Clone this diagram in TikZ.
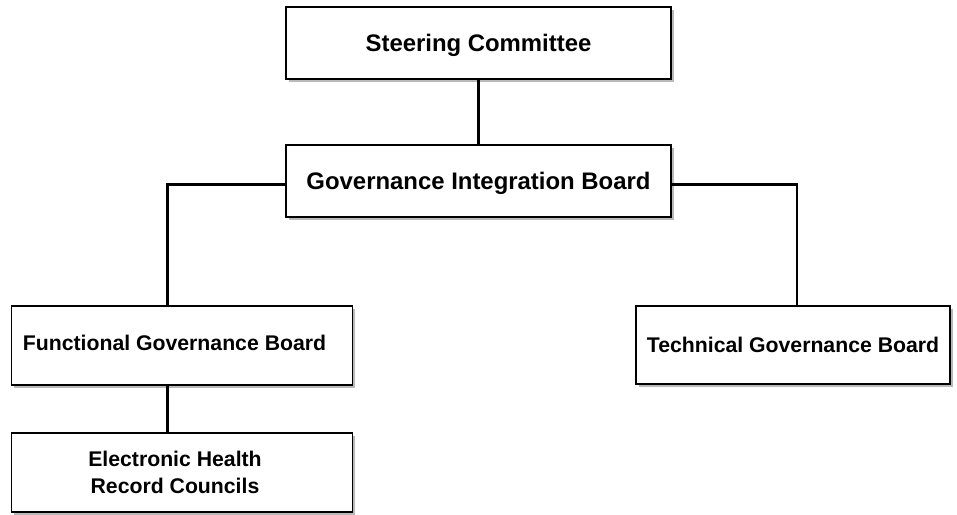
\documentclass[tikz,border=0pt]{standalone}
\usepackage{fontspec}
\setmainfont{Liberation Sans}
\usepackage{tikz}
\usetikzlibrary{shadows,calc}
\tikzset{box/.style={draw, line width=1.2pt, fill=white, rectangle, inner sep=0pt, text depth=0pt,
    drop shadow={shadow xshift=2pt, shadow yshift=-2pt, opacity=0.55}}}
\tikzset{big/.style={font=\bfseries\fontsize{17}{20}\selectfont}}
\tikzset{small/.style={font=\bfseries\fontsize{15.1}{18.9}\selectfont}}
\tikzset{lbl/.style={small, align=center, inner sep=0pt}}
\tikzset{wire/.style={line width=1.65pt}}

\begin{document}
\begin{tikzpicture}[x=0.025cm, y=-0.025cm]
    \useasboundingbox (0,0) rectangle (957,514);

    \node [box, big, minimum width=9.625cm, minimum height=1.8cm] (steer) at (478.5,43) {Steering Committee};
    \node [box, big, minimum width=9.625cm, minimum height=1.79cm] (gib) at (478.5,181) {Governance Integration Board};
    \node [box, minimum width=8.525cm, minimum height=1.975cm] (fgb) at (182,345.5) {};
    \node [box, small, minimum width=7.85cm, minimum height=1.95cm] (tgb) at (793,345) {Technical Governance Board};
    \node [box, minimum width=8.525cm, minimum height=1.96cm] (ehr) at (182,472.5) {};

    \node [lbl] (fgbtext) at ($(fgb.center)+(-7.5,-2.5)$) {Functional Governance Board};
    \node [lbl] (ehrtext) at ($(ehr.center)+(-7,0)$) {Electronic Health\\Record Councils};

    \coordinate (lj) at (167.5,184.5);
    \coordinate (rj) at (797,184.5);

    \draw [wire] (steer) -- (gib);
    \draw [wire] (gib.west |- lj) -| (fgb.north -| lj);
    \draw [wire] (gib.east |- rj) -| (tgb.north -| rj);
    \draw [wire] (fgb.south -| lj) -- (ehr.north -| lj);

\end{tikzpicture}
\end{document}
